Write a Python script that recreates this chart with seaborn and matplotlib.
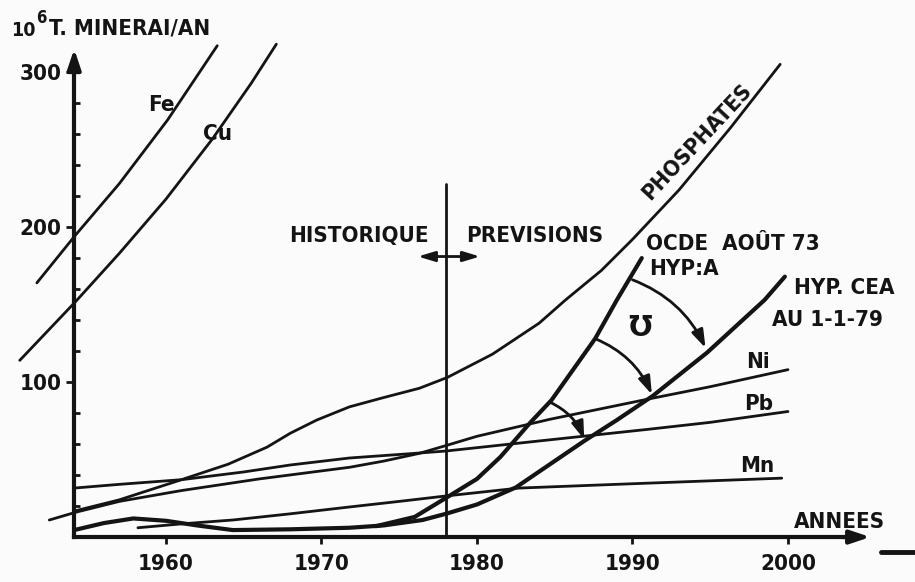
import matplotlib
matplotlib.use("Agg")
import matplotlib.pyplot as plt
from matplotlib import font_manager
import seaborn as sns

# values (years, 10^6 t of ore per year)
fe_years = [1951.7, 1954.2, 1957.0, 1960.1, 1963.3]
fe_vals = [164, 195, 228, 269, 317]

cu_years = [1950.6, 1954.2, 1957.0, 1960.0, 1963.0, 1965.5, 1967.1]
cu_vals = [114, 152, 183, 218, 257, 293, 318]

phos_years = [1954.2, 1957, 1961, 1964, 1966.5, 1968, 1969.7, 1971.8, 1974, 1976.3,
              1978.1, 1981, 1984, 1985.7, 1988, 1990, 1993, 1996.3, 1999.5]
phos_vals = [17, 24, 37, 47, 58, 67, 75.5, 84, 90, 96,
             103, 118, 138, 153, 172, 192, 224, 264, 305]

ni_years = [1952.5, 1954.2, 1957, 1961, 1966, 1971.8, 1974, 1976.3, 1978, 1980,
            1984.7, 1991, 1995, 2000]
ni_vals = [11, 16, 23, 30, 37.5, 45, 49, 54, 59, 65, 76, 89, 97, 108]

pb_years = [1954.1, 1957, 1961, 1965, 1968, 1971.8, 1976, 1978, 1984, 1991, 1995, 2000]
pb_vals = [31.6, 34, 37, 42, 46.5, 51, 54, 55.5, 62, 69.5, 74, 81]

mn_years = [1958.2, 1961, 1964.3, 1968, 1971.8, 1975, 1978, 1982.7, 1990, 1999.6]
mn_vals = [6, 8.5, 11, 15, 19.4, 23, 26.5, 31.6, 34.4, 38]

# historical curve continued by the CEA forecast (1-1-79)
cea_years = [1954.1, 1956, 1957.9, 1960, 1962, 1964.3, 1968, 1971.8, 1974, 1976.5,
             1978, 1980, 1982.5, 1984.7, 1986.9, 1989, 1991.3, 1994.8, 1998.5, 1999.8]
cea_vals = [4.5, 9, 12, 10.5, 7.5, 4.5, 5, 6, 7.5, 11,
            15, 21, 32, 47, 62, 75.5, 91, 119, 153, 168]

# OCDE forecast, August 73, hypothesis A
ocde_years = [1973.5, 1976, 1978.1, 1980, 1981.5, 1983.4, 1984.8, 1987.6, 1989, 1990.6]
ocde_vals = [7, 13, 25.8, 37.5, 51.6, 73.5, 88.4, 128, 153, 180]

# shift arrows between the two forecasts: (start year, value) -> (end year, value)
shift_from = [(1990.0, 166), (1987.6, 128), (1984.7, 87)]
shift_to = [(1994.7, 122), (1991.25, 92), (1986.9, 63)]

tick_years = [1960, 1970, 1980, 1990, 2000]
tick_vals = [100, 200, 300]
minor_vals = [20, 40, 60, 80, 120, 140, 160, 180, 220, 240, 260, 280]
split_year = 1978

sns.set_theme(style="white")
INK = "#141414"

# the lettering on the scan is a narrow bold sans; use a condensed face if one is there
narrow_path = None
wanted = ["LiberationSansNarrow-Bold", "NotoSans-CondensedBold", "DejaVuSansCondensed-Bold",
          "NotoSans-SemiCondensedBold"]
files = [f.fname for f in font_manager.fontManager.ttflist]
for w in wanted:
    hits = [p for p in files if p.split("/")[-1].startswith(w + ".")]
    if hits:
        narrow_path = hits[0]
        break
scale = 1.0 if narrow_path else 0.95


def font(size):
    if narrow_path:
        return font_manager.FontProperties(fname=narrow_path, size=size * scale)
    return font_manager.FontProperties(family="Liberation Sans", weight="bold",
                                       size=size * scale)


FS = 16

fig = plt.figure(figsize=(9.15, 5.82), dpi=100)
fig.patch.set_facecolor("#fbfbfb")
ax = fig.add_axes([0, 0, 1, 1])
ax.set_facecolor("none")

thin = dict(color=INK, lw=2.0)
thick = dict(color=INK, lw=3.0)
curves = [
    (fe_years, fe_vals, thin),
    (cu_years, cu_vals, thin),
    (phos_years, phos_vals, thin),
    (ni_years, ni_vals, thin),
    (pb_years, pb_vals, thin),
    (mn_years, mn_vals, thin),
    (cea_years, cea_vals, thick),
    (ocde_years, ocde_vals, thick),
]
for xs, ys, st in curves:
    sns.lineplot(x=xs, y=ys, ax=ax, legend=False, clip_on=False, **st)

# axes frame
ax.set_xlim(1949.33, 2008.17)
ax.set_ylim(-29.0, 346.5)
for side in ["top", "right"]:
    ax.spines[side].set_visible(False)
ax.spines["left"].set_position(("data", 1954.1))
ax.spines["bottom"].set_position(("data", 0))
ax.spines["left"].set_bounds(0, 306)
ax.spines["bottom"].set_bounds(1954.1, 2004.0)
for side in ["left", "bottom"]:
    ax.spines[side].set_linewidth(3)
    ax.spines[side].set_color(INK)
arrow = dict(arrowstyle="-|>,head_length=0.6,head_width=0.2", lw=3, color=INK,
             mutation_scale=20, shrinkA=0, shrinkB=0)
ax.annotate("", xy=(2005.3, 0), xytext=(2003.5, 0), arrowprops=arrow)
ax.annotate("", xy=(1954.1, 315), xytext=(1954.1, 300), arrowprops=arrow)

ax.set_xticks(tick_years)
ax.set_xticklabels([str(y) for y in tick_years])
ax.set_yticks(tick_vals)
ax.set_yticklabels([str(v) for v in tick_vals])
ax.set_yticks(minor_vals, minor=True)
ax.tick_params(axis="x", bottom=True, direction="out", length=5, width=2, pad=7, colors=INK)
ax.tick_params(axis="y", which="major", left=True, direction="out", length=6, width=2,
               pad=3, colors=INK)
ax.tick_params(axis="y", which="minor", left=True, direction="in", length=4, width=2,
               colors=INK)
for lbl in ax.get_xticklabels() + ax.get_yticklabels():
    lbl.set_fontproperties(font(FS))

# historique / previsions separator
ax.plot([split_year, split_year], [0, 228], color=INK, lw=2)
ax.annotate("", xy=(1980.2, 181), xytext=(1976.2, 181),
            arrowprops=dict(arrowstyle="<|-|>,head_length=0.5,head_width=0.15",
                            lw=2, color=INK, mutation_scale=20, shrinkA=0, shrinkB=0))
ax.text(1972.4, 194, "HISTORIQUE", ha="center", va="center", fontproperties=font(FS),
        color=INK)
ax.text(1983.7, 194, "PREVISIONS", ha="center", va="center", fontproperties=font(FS),
        color=INK)

# shift arrows
for (x0, y0), (x1, y1) in zip(shift_from, shift_to):
    ax.annotate("", xy=(x1, y1), xytext=(x0, y0),
                arrowprops=dict(arrowstyle="-|>,head_length=0.6,head_width=0.2", lw=2,
                                color=INK, mutation_scale=18, shrinkA=0, shrinkB=0,
                                connectionstyle="arc3,rad=-0.2"))
ax.text(1990.5, 135, "\u01B1", ha="center", va="center", fontsize=20, color=INK,
        family="DejaVu Sans", fontweight="bold")

# curve labels
labels = [
    (1959.7, 279, "Fe", "center"),
    (1963.3, 260, "Cu", "center"),
    (1990.9, 189, "OCDE  AOÛT 73", "left"),
    (1991.1, 173, "HYP:A", "left"),
    (2000.4, 161, "HYP. CEA", "left"),
    (1999.0, 140, "AU 1-1-79", "left"),
    (1998.1, 113, "Ni", "center"),
    (1998.1, 86, "Pb", "center"),
    (1998.0, 46, "Mn", "center"),
    (2003.3, 10, "ANNEES", "center"),
]
for x, y, s, ha in labels:
    ax.text(x, y, s, ha=ha, va="center", fontproperties=font(FS), color=INK)
ax.text(1994.15, 255, "PHOSPHATES", ha="center", va="center", rotation=47,
        rotation_mode="anchor", fontproperties=font(FS), color=INK)

# unit label at the top of the y axis
fig.text(11 / 915, 1 - 30 / 582, "10", ha="left", va="center", fontproperties=font(14),
         color=INK)
fig.text(36 / 915, 1 - 18 / 582, "6", ha="left", va="center", fontproperties=font(12),
         color=INK)
fig.text(49 / 915, 1 - 28 / 582, "T. MINERAI/AN", ha="left", va="center",
         fontproperties=font(FS), color=INK)

# scanner mark at the right edge
ax.plot([2006.0, 2008.2], [-9.7, -9.7], color=INK, lw=3.5, clip_on=False)

fig.savefig("out.png", dpi=100, facecolor=fig.get_facecolor())
